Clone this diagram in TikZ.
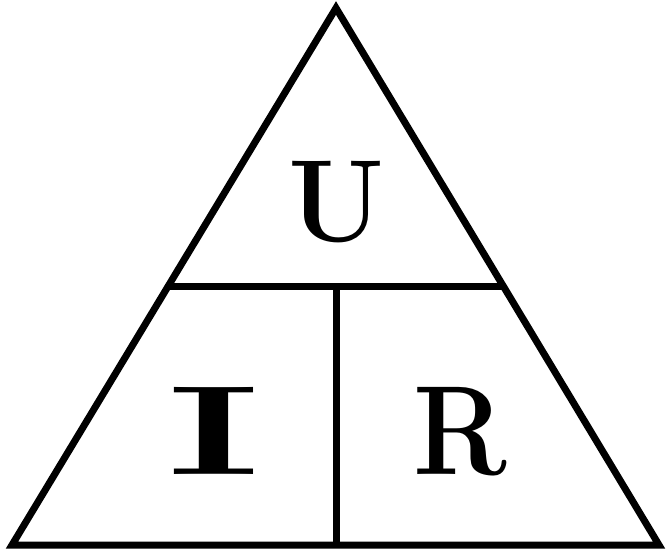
\documentclass[tikz,border=0pt]{standalone}
\begin{document}
\begin{tikzpicture}[x=1pt,y=-1pt,
  edge/.style={line width=7pt,line join=miter,black},
  letter/.style={font=\fontsize{127}{127}\selectfont\bfseries,inner sep=0pt,anchor=base}]
\useasboundingbox (0,0) rectangle (666,549);
\coordinate (top) at (336,8);
\coordinate (bl) at (12,545);
\coordinate (br) at (659,545);
\draw[edge] (top) -- (bl) -- (br) -- cycle;
\path (top) -- (bl) coordinate[pos=0.5186] (hl);
\path (top) -- (br) coordinate[pos=0.5186] (hr);
\draw[edge] (hl) -- (hr);
\coordinate (vt) at (336.5,288.5);
\coordinate (vb) at (336.5,545);
\draw[edge] (vt) -- (vb);
\node[letter,font=\fontsize{117}{117}\selectfont\bfseries] (U) at (336.5,241) {\scalebox{0.95}[1]{U}};
\node[letter] (I) at (214,474) {\scalebox{1.75}[1]{I}};
\node[letter] (R) at (460.5,474) {\scalebox{0.88}[1]{R}};
\end{tikzpicture}
\end{document}
